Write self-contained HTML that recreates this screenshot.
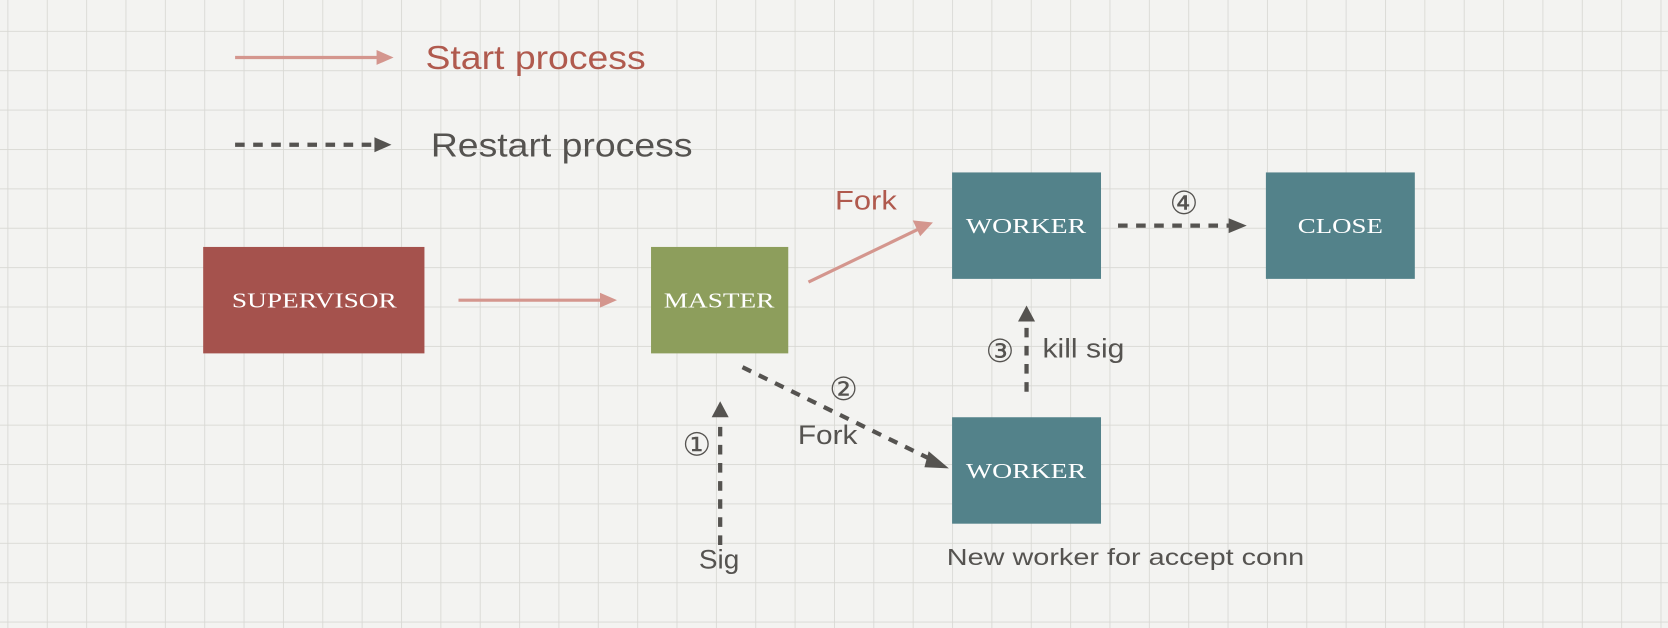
<!DOCTYPE html>
<html><head><meta charset="utf-8"><style>
html,body{margin:0;padding:0;background:#f3f3f1;}
svg{display:block;}
text{font-family:"Liberation Sans",sans-serif;}
.serif{font-family:"Liberation Serif",serif;}
.c{font-family:"DejaVu Sans",sans-serif;}
</style></head><body>
<svg width="1668" height="628" viewBox="0 0 1568 590" preserveAspectRatio="none" xmlns="http://www.w3.org/2000/svg">
<defs>
<pattern id="g" x="7" y="29" width="37" height="37" patternUnits="userSpaceOnUse">
<path d="M0 0H37M0 0V37" stroke="#d8d8d3" stroke-width="1.6" fill="none"/>
</pattern>
</defs>
<rect width="1568" height="590" fill="#f3f3f1"/>
<rect width="1568" height="590" fill="url(#g)"/>

<!-- legend -->
<line x1="221" y1="54" x2="356" y2="54" stroke="#d4968e" stroke-width="3"/>
<polygon points="354,47 370,54 354,61" fill="#d4968e"/>
<text x="400" y="65" font-size="31" fill="#b05a4e" textLength="207" lengthAdjust="spacingAndGlyphs">Start process</text>
<line x1="221" y1="136" x2="352" y2="136" stroke="#555350" stroke-width="4" stroke-dasharray="9,8"/>
<polygon points="352,129 368,136 352,143" fill="#555350"/>
<text x="405" y="147" font-size="31" fill="#555350" textLength="246" lengthAdjust="spacingAndGlyphs">Restart process</text>

<!-- boxes -->
<rect x="191" y="232" width="208" height="100" fill="#a5524d"/>
<text class="serif" x="218" y="289" font-size="20" fill="#fff" textLength="155" lengthAdjust="spacingAndGlyphs">SUPERVISOR</text>
<rect x="612" y="232" width="129" height="100" fill="#8d9e5c"/>
<text class="serif" x="624" y="289" font-size="20" fill="#fff" textLength="104" lengthAdjust="spacingAndGlyphs">MASTER</text>
<rect x="895" y="162" width="140" height="100" fill="#53828a"/>
<text class="serif" x="908" y="219" font-size="20" fill="#fff" textLength="113" lengthAdjust="spacingAndGlyphs">WORKER</text>
<rect x="1190" y="162" width="140" height="100" fill="#53828a"/>
<text class="serif" x="1220" y="219" font-size="20" fill="#fff" textLength="80" lengthAdjust="spacingAndGlyphs">CLOSE</text>
<rect x="895" y="392" width="140" height="100" fill="#53828a"/>
<text class="serif" x="908" y="449" font-size="20" fill="#fff" textLength="113" lengthAdjust="spacingAndGlyphs">WORKER</text>

<!-- supervisor -> master -->
<line x1="431" y1="282" x2="566" y2="282" stroke="#d4968e" stroke-width="3"/>
<polygon points="564,275 580,282 564,289" fill="#d4968e"/>
<!-- master -> worker fork -->
<line x1="760" y1="265" x2="864" y2="215" stroke="#d4968e" stroke-width="3"/>
<polygon points="858,207 877,209 865,222" fill="#d4968e"/>
<text x="785" y="197" font-size="25" fill="#b05a4e" textLength="58" lengthAdjust="spacingAndGlyphs">Fork</text>
<!-- worker -> close -->
<line x1="1051" y1="212" x2="1156" y2="212" stroke="#555350" stroke-width="4" stroke-dasharray="9,8"/>
<polygon points="1155,205 1172,212 1155,219" fill="#555350"/>
<text class="c" x="1113" y="201" font-size="30" fill="#555350" text-anchor="middle">④</text>
<!-- sig -->
<line x1="677" y1="512" x2="677" y2="395" stroke="#555350" stroke-width="4" stroke-dasharray="9,8"/>
<polygon points="669,392 677,377 685,392" fill="#555350"/>
<text class="c" x="655" y="428" font-size="30" fill="#555350" text-anchor="middle">①</text>
<text x="657" y="534" font-size="25" fill="#555350" textLength="38" lengthAdjust="spacingAndGlyphs">Sig</text>
<!-- master -> new worker -->
<line x1="698" y1="345" x2="876" y2="432" stroke="#555350" stroke-width="4" stroke-dasharray="9,8"/>
<polygon points="873,424 892,440 869,439" fill="#555350"/>
<text class="c" x="793" y="376" font-size="30" fill="#555350" text-anchor="middle">②</text>
<text x="750" y="417" font-size="25" fill="#555350" textLength="56" lengthAdjust="spacingAndGlyphs">Fork</text>
<!-- kill sig -->
<line x1="965" y1="368" x2="965" y2="304" stroke="#555350" stroke-width="4" stroke-dasharray="9,8"/>
<polygon points="957,302 965,287 973,302" fill="#555350"/>
<text class="c" x="940" y="340" font-size="30" fill="#555350" text-anchor="middle">③</text>
<text x="980" y="336" font-size="25" fill="#555350" textLength="77" lengthAdjust="spacingAndGlyphs">kill sig</text>
<text x="890" y="531" font-size="22" fill="#555350" textLength="336" lengthAdjust="spacingAndGlyphs">New worker for accept conn</text>
</svg>
</body></html>
